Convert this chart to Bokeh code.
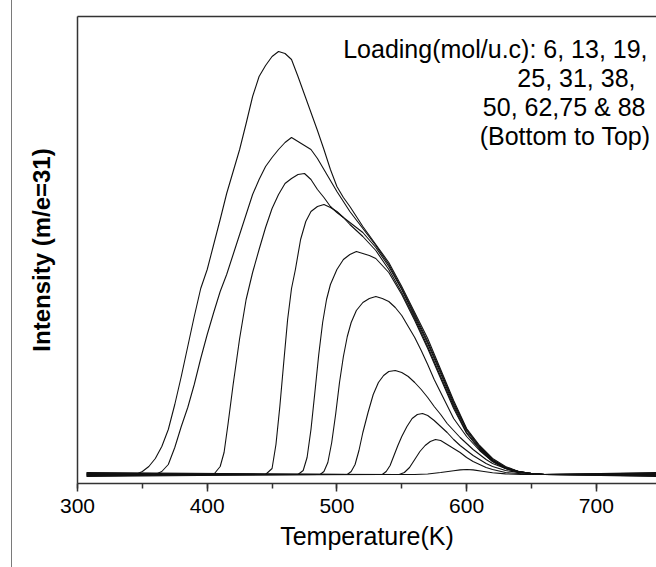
from bokeh.plotting import figure
from bokeh.models import Range1d, LinearAxis, SingleIntervalTicker, FixedTicker, Label
from bokeh.embed import file_html
from bokeh.resources import INLINE

# ---------------- data (Temperature K, Intensity a.u.) ----------------
loadings = [6, 13, 19, 25, 31, 38, 50, 62, 75, 88]

temp_6 = [307, 560, 570, 580, 590, 595, 600, 605, 612, 620, 630, 642, 747]
int_6 = [0.0, 0.0, 0.005, 0.02, 0.038, 0.046, 0.05, 0.046, 0.033, 0.018, 0.006, 0.0, 0.0]

temp_13 = [307, 548, 552, 556, 560, 564, 568, 572, 576, 580, 585, 590, 595, 600, 605, 610,
           615, 620, 630, 640, 650, 747]
int_13 = [0.01, 0.0, 0.02, 0.07, 0.15, 0.23, 0.29, 0.33, 0.35, 0.34, 0.30, 0.26, 0.22, 0.17,
          0.13, 0.10, 0.07, 0.05, 0.02, 0.01, 0.0, 0.01]

temp_19 = [307, 535, 538, 541, 544, 547, 550, 554, 558, 562, 566, 570, 575, 580, 585, 590,
           595, 600, 605, 610, 615, 620, 630, 640, 650, 660, 747]
int_19 = [-0.01, 0.0, 0.03, 0.09, 0.19, 0.29, 0.38, 0.48, 0.56, 0.60, 0.61, 0.59, 0.54, 0.48,
          0.42, 0.35, 0.29, 0.24, 0.19, 0.15, 0.11, 0.08, 0.04, 0.02, 0.01, 0.0, -0.01]

temp_25 = [307, 508, 511, 514, 517, 520, 524, 528, 532, 536, 540, 545, 550, 555, 560, 565,
           570, 575, 580, 585, 590, 595, 600, 605, 610, 615, 620, 630, 640, 650, 660, 747]
int_25 = [0.02, 0.0, 0.03, 0.10, 0.24, 0.42, 0.62, 0.80, 0.92, 0.99, 1.03, 1.04, 1.02, 0.98,
          0.92, 0.85, 0.77, 0.68, 0.60, 0.51, 0.44, 0.37, 0.31, 0.25, 0.20, 0.15, 0.11, 0.06,
          0.03, 0.01, 0.0, 0.02]

temp_31 = [307, 487, 490, 493, 496, 499, 502, 505, 508, 511, 515, 520, 525, 530, 535, 540,
           545, 550, 555, 560, 565, 570, 575, 580, 590, 600, 610, 620, 630, 640, 650, 660, 747]
int_31 = [-0.02, 0.0, 0.03, 0.12, 0.32, 0.60, 0.92, 1.18, 1.38, 1.52, 1.64, 1.72, 1.76, 1.78,
          1.76, 1.73, 1.67, 1.59, 1.48, 1.37, 1.24, 1.10, 0.95, 0.82, 0.56, 0.38, 0.24, 0.13,
          0.06, 0.02, 0.01, 0.0, -0.02]

temp_38 = [307, 470, 474, 477, 480, 483, 486, 489, 492, 495, 500, 505, 510, 515, 520, 525,
           530, 540, 550, 560, 570, 580, 590, 600, 610, 620, 630, 640, 650, 660, 747]
int_38 = [0.0, 0.0, 0.04, 0.17, 0.45, 0.82, 1.20, 1.52, 1.75, 1.90, 2.05, 2.15, 2.20, 2.23,
          2.21, 2.19, 2.16, 2.02, 1.80, 1.54, 1.26, 0.96, 0.66, 0.41, 0.25, 0.13, 0.06, 0.02,
          0.01, 0.0, 0.0]

temp_50 = [307, 445, 450, 453, 456, 459, 462, 465, 468, 472, 476, 480, 485, 490, 495, 500,
           505, 510, 520, 530, 540, 550, 560, 570, 580, 590, 600, 610, 620, 630, 640, 650,
           660, 747]
int_50 = [0.015, 0.0, 0.06, 0.30, 0.68, 1.12, 1.55, 1.86, 2.05, 2.35, 2.53, 2.63, 2.68, 2.70,
          2.67, 2.63, 2.57, 2.50, 2.38, 2.24, 2.05, 1.82, 1.56, 1.28, 0.98, 0.68, 0.42, 0.26,
          0.14, 0.07, 0.03, 0.01, 0.0, 0.015]

temp_62 = [307, 405, 410, 413, 416, 420, 425, 430, 435, 440, 445, 450, 455, 460, 465, 470,
           475, 480, 485, 490, 495, 500, 505, 510, 520, 530, 540, 550, 560, 570, 580, 590,
           600, 610, 620, 630, 640, 650, 660, 747]
int_62 = [-0.015, 0.0, 0.08, 0.22, 0.50, 0.90, 1.36, 1.75, 2.02, 2.25, 2.47, 2.66, 2.80, 2.91,
          2.96, 3.00, 3.01, 2.95, 2.85, 2.77, 2.68, 2.62, 2.57, 2.52, 2.42, 2.27, 2.08, 1.85,
          1.58, 1.31, 1.01, 0.70, 0.44, 0.27, 0.14, 0.07, 0.03, 0.01, 0.0, -0.015]

temp_75 = [307, 360, 365, 370, 375, 380, 385, 390, 395, 400, 405, 410, 415, 420, 425, 430,
           435, 440, 445, 450, 455, 460, 465, 470, 475, 480, 485, 490, 495, 500, 505, 510,
           520, 530, 540, 550, 560, 570, 580, 590, 600, 610, 620, 630, 640, 650, 660, 747]
int_75 = [0.008, 0.0, 0.03, 0.10, 0.27, 0.48, 0.67, 0.90, 1.16, 1.40, 1.62, 1.83, 2.00, 2.20,
          2.40, 2.60, 2.80, 2.95, 3.08, 3.17, 3.25, 3.32, 3.37, 3.33, 3.29, 3.25, 3.16, 3.05,
          2.94, 2.83, 2.73, 2.63, 2.46, 2.29, 2.10, 1.86, 1.60, 1.33, 1.03, 0.72, 0.45, 0.28,
          0.15, 0.07, 0.03, 0.01, 0.0, 0.008]

temp_88 = [307, 345, 350, 355, 360, 365, 370, 375, 380, 385, 390, 395, 400, 405, 410, 415,
           420, 425, 430, 435, 440, 445, 450, 455, 460, 465, 470, 475, 480, 485, 490, 495,
           500, 505, 510, 520, 530, 540, 550, 560, 570, 580, 590, 600, 610, 620, 630, 640,
           650, 660, 747]
int_88 = [-0.008, 0.0, 0.03, 0.08, 0.16, 0.28, 0.45, 0.70, 0.98, 1.28, 1.58, 1.86, 2.05, 2.30,
          2.55, 2.81, 3.03, 3.25, 3.51, 3.78, 3.98, 4.09, 4.18, 4.23, 4.21, 4.15, 3.98, 3.80,
          3.62, 3.44, 3.25, 3.05, 2.88, 2.77, 2.68, 2.48, 2.30, 2.12, 1.88, 1.62, 1.36, 1.05,
          0.74, 0.46, 0.29, 0.16, 0.08, 0.03, 0.01, 0.0, -0.008]

series_temps = [temp_6, temp_13, temp_19, temp_25, temp_31, temp_38, temp_50, temp_62, temp_75, temp_88]
series_ints = [int_6, int_13, int_19, int_25, int_31, int_38, int_50, int_62, int_75, int_88]

x_ticks_interval = 100
note_lines = ["Loading(mol/u.c): 6, 13, 19,", "25, 31, 38,", "50, 62,75 & 88", "(Bottom to Top)"]

# ---------------- figure ----------------
FONT = "Liberation Sans"
AXIS_COLOR = "#333333"

p = figure(width=656, height=567, output_backend="svg", toolbar_location=None,
           x_range=Range1d(300, 746.4), y_range=Range1d(-0.09, 4.58),
           min_border_left=77, min_border_right=0, min_border_top=16, min_border_bottom=84,
           outline_line_color=None, background_fill_color="white", border_fill_color=None)
p.styles = {"background": "linear-gradient(to right, white 11px, #7a7a7a 11px, #7a7a7a 12px, white 12px)"}
p.grid.visible = False

for tt, ii in zip(series_temps, series_ints):
    p.line(tt, ii, line_color="#111111", line_width=1.1)

# bottom axis
xa = p.xaxis[0]
xa.ticker = SingleIntervalTicker(interval=x_ticks_interval, num_minor_ticks=2)
xa.axis_line_color = AXIS_COLOR
xa.axis_line_width = 1.5
xa.major_tick_line_color = AXIS_COLOR
xa.major_tick_line_width = 1.5
xa.major_tick_in = 0
xa.major_tick_out = 8
xa.minor_tick_line_color = AXIS_COLOR
xa.minor_tick_line_width = 1.5
xa.minor_tick_in = 0
xa.minor_tick_out = 5
xa.major_label_text_font = FONT
xa.major_label_text_font_size = "21px"
xa.major_label_text_color = "black"
xa.major_label_standoff = 7
xa.axis_label = "Temperature(K)"
xa.axis_label_text_font = FONT
xa.axis_label_text_font_size = "25px"
xa.axis_label_text_font_style = "normal"
xa.axis_label_text_color = "black"
xa.axis_label_standoff = 6

# left axis: line and title only
ya = p.yaxis[0]
ya.ticker = FixedTicker(ticks=[])
ya.axis_line_color = AXIS_COLOR
ya.axis_line_width = 1.5
ya.major_tick_line_color = None
ya.minor_tick_line_color = None
ya.major_label_text_font_size = "0px"
ya.major_label_standoff = 0
ya.axis_label = "Intensity (m/e=31)"
ya.axis_label_text_font = FONT
ya.axis_label_text_font_size = "24px"
ya.axis_label_text_font_style = "bold"
ya.axis_label_text_color = "black"
ya.axis_label_standoff = 23

# top frame line
top = LinearAxis(ticker=FixedTicker(ticks=[]), axis_line_color=AXIS_COLOR, axis_line_width=1.5,
                 major_tick_line_color=None, minor_tick_line_color=None,
                 major_label_text_font_size="0px", major_label_standoff=0)
p.add_layout(top, "above")

# note text
note_x = [739.5, 730.2, 737.9, 741.8]
note_y = [4.26, 3.965, 3.675, 3.385]
for t, nx, ny in zip(note_lines, note_x, note_y):
    p.add_layout(Label(x=nx, y=ny, text=t, text_align="right", text_baseline="alphabetic",
                       text_font=FONT, text_font_size="25px", text_color="black"))

open("out.html", "w").write(file_html(p, INLINE))
